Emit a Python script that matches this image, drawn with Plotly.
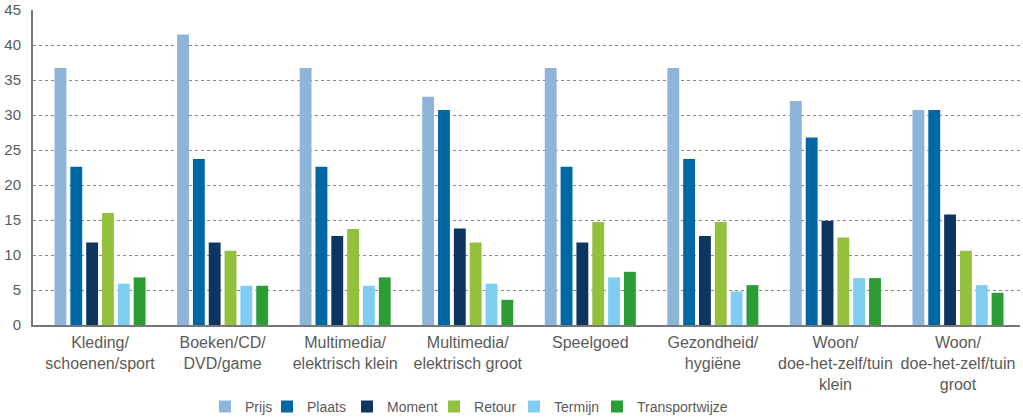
import plotly.graph_objects as go

categories = [
    "Kleding/<br>schoenen/sport",
    "Boeken/CD/<br>DVD/game",
    "Multimedia/<br>elektrisch klein",
    "Multimedia/<br>elektrisch groot",
    "Speelgoed",
    "Gezondheid/<br>hygiëne",
    "Woon/<br>doe-het-zelf/tuin<br>klein",
    "Woon/<br>doe-het-zelf/tuin<br>groot",
]

prijs = [36.7, 41.5, 36.7, 32.6, 36.7, 36.7, 32.0, 30.7]
plaats = [22.6, 23.7, 22.6, 30.7, 22.6, 23.7, 26.8, 30.7]
moment = [11.8, 11.8, 12.7, 13.8, 11.8, 12.7, 14.9, 15.8]
retour = [16.0, 10.6, 13.7, 11.8, 14.7, 14.7, 12.5, 10.6]
termijn = [5.9, 5.6, 5.6, 5.9, 6.8, 4.8, 6.7, 5.7]
transportwijze = [6.8, 5.6, 6.8, 3.6, 7.6, 5.7, 6.7, 4.6]

series_names = ["Prijs", "Plaats", "Moment", "Retour", "Termijn", "Transportwijze"]
series_values = [prijs, plaats, moment, retour, termijn, transportwijze]
colors = ["#8fb4d9", "#0067a5", "#0d3560", "#94c13d", "#7fcdf2", "#2a9d35"]
legend_widths = [17, 35, 42, 35, 38, 90]

y_ticks = [0, 5, 10, 15, 20, 25, 30, 35, 40, 45]

FONT = "Liberation Sans, Arial, sans-serif"
TXT = "#5a5a5a"

fig = go.Figure()
x_idx = list(range(len(categories)))
for name, vals, col, lw in zip(series_names, series_values, colors, legend_widths):
    fig.add_trace(go.Bar(x=x_idx, y=vals, name=name, legendwidth=lw,
                         marker=dict(color=col, line=dict(width=0))))

fig.update_layout(
    width=1023, height=419,
    margin=dict(l=33, r=3, t=10, b=94, autoexpand=False),
    paper_bgcolor="white", plot_bgcolor="white",
    barmode="group", bargap=0.225, bargroupgap=0.25,
    font=dict(family=FONT, size=16, color=TXT),
    showlegend=True,
    legend=dict(orientation="h", x=0.1743, xanchor="left", y=-0.26, yanchor="middle",
                font=dict(family=FONT, size=14, color=TXT), traceorder="normal",
                itemwidth=30, entrywidthmode="pixels"),
)
fig.update_xaxes(
    tickmode="array", tickvals=x_idx, ticktext=categories,
    range=[-0.547, 7.506], showgrid=False, ticks="", automargin=False,
    showline=True, linecolor="#777777", linewidth=2,
    tickfont=dict(family=FONT, size=16, color=TXT), ticklabelstandoff=2,
    zeroline=False, fixedrange=True,
)
fig.update_yaxes(
    range=[0, 45], tickmode="array", tickvals=y_ticks, automargin=False,
    showgrid=True, gridcolor="#8a8a8a", griddash="dot", gridwidth=1,
    showline=True, linecolor="#777777", linewidth=2,
    ticks="", tickfont=dict(family=FONT, size=15, color=TXT), ticklabelstandoff=7,
    zeroline=False, fixedrange=True,
)

fig.write_html(
    "out.html",
    config={"displayModeBar": False},
    post_script="document.body.style.margin='0';document.body.style.overflow='hidden';",
)
